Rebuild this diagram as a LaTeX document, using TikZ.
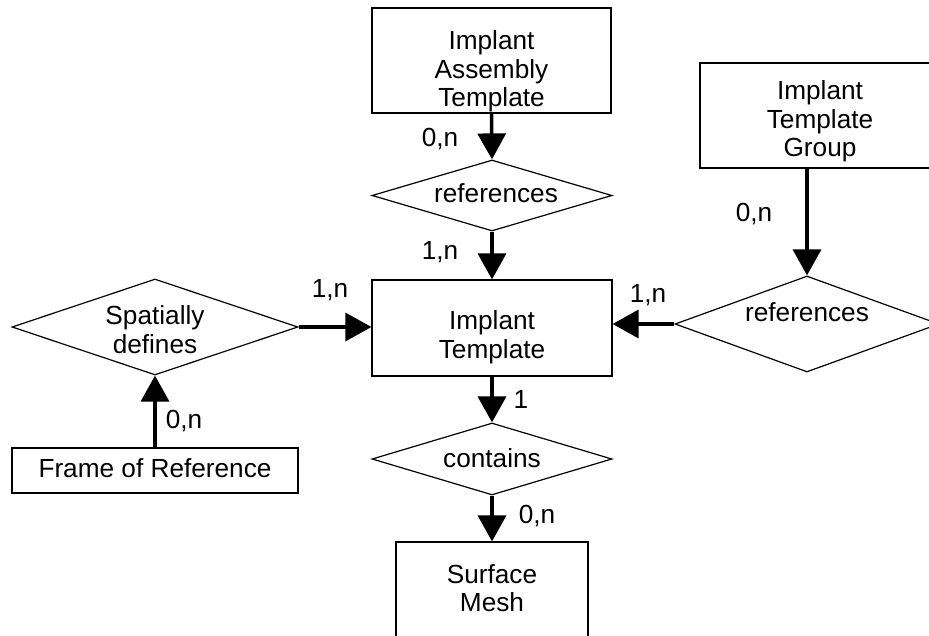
\documentclass[tikz,border=0pt]{standalone}
\usepackage{fontspec}
\setmainfont{Liberation Sans}
\usetikzlibrary{shapes.geometric,arrows.meta}
\newcommand{\mlines}[1]{\begin{tabular}[t]{@{}c@{}}#1\end{tabular}}
\begin{document}
\begin{tikzpicture}[x=1pt,y=-1pt,
  ebox/.style={draw,line width=1.2pt,rectangle,inner sep=0pt},
  rel/.style={draw,line width=1.2pt,diamond,inner sep=0pt},
  txt/.style={inner sep=0pt,anchor=base,font=\fontsize{26.2}{28.5}\selectfont},
  link/.style={line width=3.5pt,-{Triangle[length=26pt,width=28pt]}}
]
\useasboundingbox (0,0) rectangle (929,636);
\clip (0,0) rectangle (929,636);
\fill[white] (0,0) rectangle (929,636);

% entity boxes
\node[ebox,minimum width=239pt,minimum height=105pt] (iat) at (491.5,60.5) {};
\node[ebox,minimum width=240pt,minimum height=96pt] (it) at (492,328) {};
\node[ebox,minimum width=240pt,minimum height=105pt] (itg) at (820,115.5) {};
\node[ebox,minimum width=286pt,minimum height=45pt] (frame) at (155,470.5) {};
\node[ebox,minimum width=192pt,minimum height=105pt] (sm) at (492,594.5) {};

% relationship diamonds
\node[rel,minimum width=240pt,minimum height=71pt] (reft) at (492,195.5) {};
\node[rel,minimum width=286pt,minimum height=96pt] (spat) at (155,327) {};
\node[rel,minimum width=240pt,minimum height=72pt] (cont) at (492,459) {};
\node[rel,minimum width=264pt,minimum height=96pt] (refr) at (807,324) {};

% texts
\node[txt] (iatT) at (491.5,50) {\mlines{Implant\\Assembly\\Template}};
\node[txt] (itT) at (492,330) {\mlines{Implant\\Template}};
\node[txt] (itgT) at (820,100) {\mlines{Implant\\Template\\Group}};
\node[txt] (frameT) at (155,477) {Frame of Reference};
\node[txt] (smT) at (492,583) {\mlines{Surface\\Mesh}};
\node[txt] (reftT) at (496,203) {references};
\node[txt] (spatT) at (155,325) {\mlines{Spatially\\defines}};
\node[txt] (contT) at (492,467) {contains};
\node[txt] (refrT) at (807,322) {references};

% connectors
\draw[link] (iat.south) -- (reft.north);
\draw[link] (reft.south) -- (it.north);
\draw[link] (spat.east) -- (spat.east -| it.west);
\draw[link] (frame.north) -- (spat.south);
\draw[link] (refr.north |- itg.south) -- (refr.north);
\draw[link] (refr.west) -- (refr.west -| it.east);
\draw[link] (it.south) -- (cont.north);
\draw[link] (cont.south) -- (sm.north);

% cardinalities
\node[txt] (c1) at (440,147) {0,n};
\node[txt] (c2) at (440,260) {1,n};
\node[txt] (c3) at (330,298) {1,n};
\node[txt] (c4) at (184,428) {0,n};
\node[txt] (c5) at (648,303) {1,n};
\node[txt] (c6) at (754,222) {0,n};
\node[txt] (c7) at (521,408) {1};
\node[txt] (c8) at (537,523) {0,n};
\end{tikzpicture}
\end{document}
